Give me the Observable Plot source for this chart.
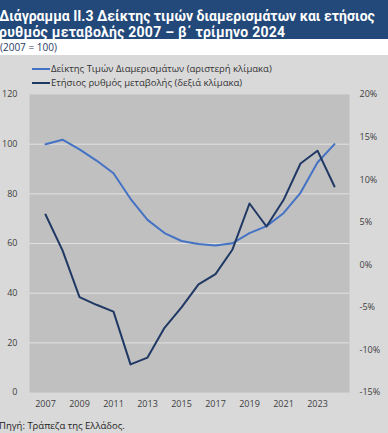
<!DOCTYPE html>
<html><head><meta charset="utf-8">
<script src="https://cdn.jsdelivr.net/npm/d3@7"></script>
<script src="https://cdn.jsdelivr.net/npm/@observablehq/plot@0.6"></script>
<style>
html,body{margin:0;padding:0;background:#d9d9d9;}
#wrap{width:388px;height:433px;position:relative;overflow:hidden;background:#d9d9d9;font-family:"Open Sans",sans-serif;}
#title{position:absolute;left:0;top:0;width:388px;height:39px;background:#22497a;}
.tl{position:absolute;left:-1px;color:#fff;font-family:Roboto,sans-serif;font-weight:bold;font-size:14px;line-height:16.5px;height:16.5px;white-space:nowrap;}
#sub{position:absolute;left:0;top:39px;width:388px;height:16px;background:#fff;font-size:10px;line-height:16px;color:#1f3864;}
#chart{position:absolute;left:0;top:55px;}
.leg{position:absolute;left:32px;font-size:9.5px;color:#333;height:14px;line-height:14px;white-space:nowrap;}
.leg span.sw{display:inline-block;width:18px;height:2px;vertical-align:middle;margin-right:1px;}
#source{position:absolute;left:-1px;top:419px;font-size:9.5px;color:#222;white-space:nowrap;}
</style></head>
<body>
<div id="wrap">
  <div id="title">
    <div class="tl" style="top:7.5px">Διάγραμμα ΙΙ.3 Δείκτης τιμών διαμερισμάτων και ετήσιος</div>
    <div class="tl" style="top:24px;letter-spacing:0.25px">ρυθμός μεταβολής 2007 – β΄ τρίμηνο 2024</div>
  </div>
  <div id="sub">(2007 = 100)</div>
  <div id="chart"></div>
  <div class="leg" style="top:62px"><span class="sw" style="background:#4472c4"></span>Δείκτης Τιμών Διαμερισμάτων (αριστερή κλίμακα)</div>
  <div class="leg" style="top:76px"><span class="sw" style="background:#1f3864"></span>Ετήσιος ρυθμός μεταβολής (δεξιά κλίμακα)</div>
  <div id="source">Πηγή: Τράπεζα της Ελλάδος.</div>
</div>
<script>
const years = [2007,2008,2009,2010,2011,2012,2013,2014,2015,2016,2017,2018,2019,2020,2021,2022,2023,2024];
const priceIndex = [100,101.8,97.9,93.4,88.3,78,69.5,64.2,61,59.8,59.2,60.1,64.2,67,72.2,80.4,92.6,100];
const annualChange = [5.9,1.7,-3.8,-4.7,-5.5,-11.7,-10.9,-7.4,-5.0,-2.3,-1.1,1.8,7.2,4.5,7.6,11.9,13.4,9.2];
const leftTicks = [0,20,40,60,80,100,120];
const rightTicks = [-15,-10,-5,0,5,10,15,20];
const gridValues = [20,40,60,80,100];
const xTickYears = [2007,2009,2011,2013,2015,2017,2019,2021,2023];
const seriesNames = ["Δείκτης Τιμών Διαμερισμάτων (αριστερή κλίμακα)","Ετήσιος ρυθμός μεταβολής (δεξιά κλίμακα)"];

const right = d3.scaleLinear([-15,20],[0,120]);
const idxData = years.map((y,i)=>({year:y, v:priceIndex[i]}));
const chgData = years.map((y,i)=>({year:y, v:annualChange[i]}));

const chart = Plot.plot({
  width:388, height:358, marginTop:39, marginBottom:21, marginLeft:29, marginRight:39,
  style:{fontFamily:"Open Sans, sans-serif", fontSize:"9px", color:"#404040", background:"transparent", overflow:"visible"},
  x:{type:"point", domain:years, padding:0.5},
  y:{domain:[0,120]},
  marks:[
    Plot.frame({fill:"#c0c0c0", stroke:null}),
    Plot.gridY(gridValues,{stroke:"#e2e2e2", strokeOpacity:1, strokeWidth:1}),
    Plot.axisY(leftTicks,{anchor:"left", tickSize:0, tickPadding:12, label:null}),
    Plot.axisY(rightTicks.map(right),{anchor:"right", tickSize:0, tickPadding:10, label:null, tickFormat:v=>Math.round(right.invert(v))+"%"}),
    Plot.axisX(xTickYears,{anchor:"bottom", tickSize:0, tickPadding:8, label:null, tickFormat:d=>String(d)}),
    Plot.line(idxData,{x:"year", y:"v", stroke:"#4472c4", strokeWidth:2}),
    Plot.line(chgData,{x:"year", y:d=>right(d.v), stroke:"#1f3864", strokeWidth:2})
  ]
});
document.getElementById("chart").appendChild(chart);
</script>
</body></html>
